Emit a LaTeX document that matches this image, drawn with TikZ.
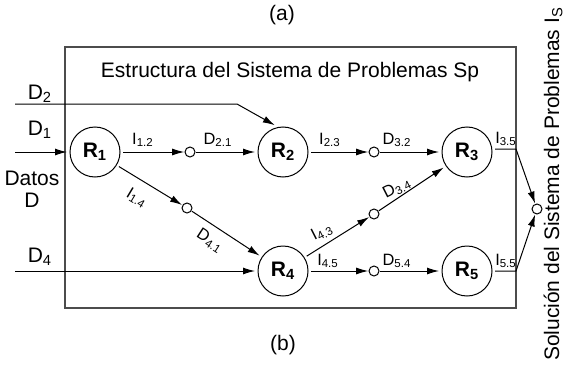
\documentclass[tikz,border=0pt]{standalone}
\usepackage{fontspec}
\setmainfont{Liberation Sans}
\usepackage{tikz}
\usetikzlibrary{arrows.meta, positioning}

\begin{document}
\begin{tikzpicture}[
    x=0.5pt, y=-0.5pt,
    proc/.style={circle, draw, line width=0.5pt, minimum size=25pt, inner sep=0pt, outer sep=1.5pt, font=\fontsize{10.5}{12}\selectfont\bfseries},
    junc/.style={circle, draw, line width=0.5pt, minimum size=5pt, inner sep=0pt, outer sep=0.4pt},
    flow/.style={-{Latex[length=6pt,width=3.5pt]}, line width=0.5pt},
    lbl/.style={font=\fontsize{8.2}{9}\selectfont, inner sep=0.5pt},
    big/.style={font=\fontsize{10.5}{11}\selectfont, inner sep=1pt}
]
\useasboundingbox (0,0) rectangle (566,369);

% frame and captions
\draw[black!70, line width=0.6pt] (65,47) rectangle (516,308);
\node[big] (title) at (290,72) {Estructura del Sistema de Problemas Sp};
\node[big] (capa) at (282,15) {(a)};
\node[big] (capb) at (283,345) {(b)};
\node[big, rotate=90] (sol) at (553,184) {Soluci\'on del Sistema de Problemas I\textsubscript{S}};

% problems
\node[proc] (R1) at (95,152) {R\textsubscript{1}};
\node[proc] (R2) at (283,152) {R\textsubscript{2}};
\node[proc] (R3) at (467,152) {R\textsubscript{3}};
\node[proc] (R4) at (283,271) {R\textsubscript{4}};
\node[proc] (R5) at (467,271) {R\textsubscript{5}};

% junctions
\node[junc] (j12) at (190,152) {};
\node[junc] (j14) at (187,208) {};
\node[junc] (j23) at (374,152) {};
\node[junc] (j43) at (374,214) {};
\node[junc] (j45) at (374,271) {};
\node[junc] (out) at (537,209) {};

% inputs
\coordinate (d1in) at (15,152);
\coordinate (d2in) at (15,104);
\coordinate (d2bend) at (237,104);
\coordinate (d4in) at (15,271);
\node[big] (D1) at (40,130) {D\textsubscript{1}};
\node[big] (D2) at (40,94) {D\textsubscript{2}};
\node[big] (D4) at (40,257) {D\textsubscript{4}};
\node[big, align=center] (datos) at (32,189) {Datos\\D};

\draw[flow] (d1in) -- (R1);
\draw[flow] (d2in) -- (d2bend) -- (R2.107);
\draw[flow] (d4in) -- (R4);

% connections
\draw[flow] (R1) -- (j12);
\draw[flow] (j12) -- (R2);
\draw[flow] (R1) -- (j14);
\draw[flow] (j14) -- (R4);
\draw[flow] (R2) -- (j23);
\draw[flow] (j23) -- (R3);
\draw[flow] (R4) -- (j43);
\draw[flow] (j43) -- (R3);
\draw[flow] (R4) -- (j45);
\draw[flow] (j45) -- (R5);

% outputs
\coordinate (o3) at (516,149);
\coordinate (o5) at (516,271);
\draw[flow] (R3.east |- o3) -- (o3) -- (out);
\draw[flow] (R5) -- (o5) -- (out);

% labels
\node[lbl] (l12) at (143,140) {I\textsubscript{1.2}};
\node[lbl] (l21) at (218,140) {D\textsubscript{2.1}};
\node[lbl] (l23) at (330,140) {I\textsubscript{2.3}};
\node[lbl] (l32) at (397,140) {D\textsubscript{3.2}};
\node[lbl] (l35) at (506,139) {I\textsubscript{3.5}};
\node[lbl, rotate=-31] (l14) at (137,198) {I\textsubscript{1.4}};
\node[lbl, rotate=-33] (l41) at (210,241) {D\textsubscript{4.1}};
\node[lbl, rotate=27] (l43) at (322,232) {I\textsubscript{4.3}};
\node[lbl, rotate=27] (l34) at (397,188) {D\textsubscript{3.4}};
\node[lbl] (l45) at (328,261) {I\textsubscript{4.5}};
\node[lbl] (l54) at (397,261) {D\textsubscript{5.4}};
\node[lbl] (l55) at (506,261) {I\textsubscript{5.5}};

\end{tikzpicture}
\end{document}
